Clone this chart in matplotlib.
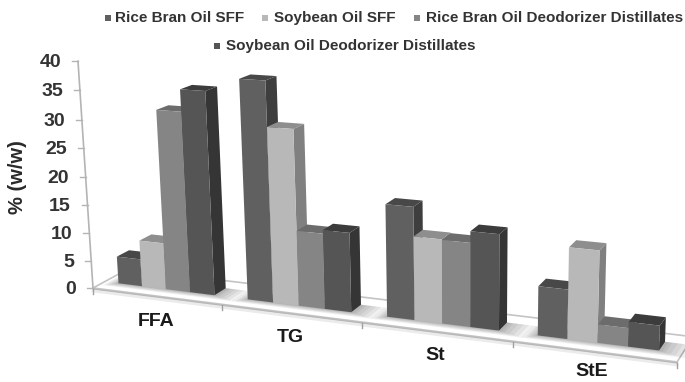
import numpy as np
import matplotlib
matplotlib.use('Agg')
import matplotlib.pyplot as plt

categories = ["FFA", "TG", "St", "StE"]
series_names = ["Rice Bran Oil SFF", "Soybean Oil SFF", "Rice Bran Oil Deodorizer Distillates", "Soybean Oil Deodorizer Distillates"]
rice_sff = [4.9, 37.9, 19.0, 8.1]
soy_sff = [8.3, 30.2, 14.1, 14.9]
rice_dd = [31.7, 13.0, 14.0, 3.0]
soy_dd = [35.5, 13.6, 15.9, 4.0]
y_ticks = [0, 5, 10, 15, 20, 25, 30, 35, 40]

front_cols = ["#606060", "#b8b8b8", "#858585", "#555555"]
side_cols = ["#3e3e3e", "#808080", "#666666", "#353535"]
top_cols = ["#484848", "#8e8e8e", "#6c6c6c", "#3c3c3c"]

plt.rcParams['font.family'] = ['Liberation Sans', 'DejaVu Sans']


def proj(u, v, d):
    # 遠近感つきの射影 (カテゴリ位置, 値, 奥行き) -> ピクセル
    w = 1 - 0.0365 * u - 0.000957 * v + 0.0375 * d
    x = (93 + 121.3 * u - 0.45 * v + 39.8 * d) / w
    y = (288 + 5.28 * u - 5.73 * v - 8.9 * d) / w
    return x, y


def face(ax, pts, color, z=3, **kw):
    xy = [proj(*p) for p in pts]
    ax.fill([p[0] for p in xy], [p[1] for p in xy], color=color, lw=0, zorder=z, **kw)


fig = plt.figure(figsize=(6.85, 3.82), dpi=100)
ax = fig.add_axes([0, 0, 1, 1])
ax.set_xlim(0, 685)
ax.set_ylim(382, 0)
ax.axis('off')

# 床
n_cat = len(categories)
fx, fy = zip(*[proj(0, 0, 0), proj(n_cat, 0, 0), proj(n_cat, 0, 1), proj(0, 0, 1), proj(0, 0, 0)])
ax.plot(fx, fy, color="#c4c4c4", lw=1.2, zorder=1)
x0, y0 = proj(0, 0, 0)
x1, y1 = proj(n_cat, 0, 0)
ax.plot([x0, x1], [y0 + 1.2, y1 + 1.2], color="#b8b8b8", lw=1.4, zorder=1)
ax.plot([x0, x1], [y0 + 3, y1 + 3], color="#ebebeb", lw=2, zorder=1)

# 軸と目盛り
ax_x = [proj(0, v, 0)[0] for v in (0, 40)]
ax_y = [proj(0, v, 0)[1] for v in (0, 40)]
ax.plot(ax_x, ax_y, color="#b4b4b4", lw=1.2, zorder=1)
for t in y_ticks:
    tx, ty = proj(0, t, 0)
    ax.plot([tx - 6, tx], [ty, ty], color="#b4b4b4", lw=1.0, zorder=1)
    ax.text(tx - 17, ty + 1.5, str(t), ha='right', va='center', fontsize=14, fontweight='bold', color="#333333")
for i in range(n_cat + 1):
    tx, ty = proj(i, 0, 0)
    ax.plot([tx, tx], [ty + 1, ty + 6], color="#a0a0a0", lw=1.0, zorder=1)

ax.text(18, 177, "% (w/w)", rotation=90, ha='center', va='center', fontsize=14.5, fontweight='bold', color="#2a2a2a")

label_pos = [(156, 322), (290, 337), (435, 356), (592, 372)]
for name, (lx, ly) in zip(categories, label_pos):
    ax.text(lx, ly, name, ha='center', va='center', fontsize=14, fontweight='bold', color="#1a1a1a")

# 棒
all_vals = [rice_sff, soy_sff, rice_dd, soy_dd]
u_start = 0.11
bw = 0.1875
d0, d1 = 0.33, 0.68
for c in range(n_cat):
    # 床の影
    for grow in (0.16, 0.13, 0.10, 0.07, 0.04, 0.02):
        a, b = c + u_start - grow * 0.5, c + u_start + 4 * bw + grow * 1.1
        face(ax, [(a, 0, d0 - grow), (b, 0, d0 - grow), (b, 0, d1), (a, 0, d1)], "#000000", z=2, alpha=0.055)
    for s in range(4):
        v = all_vals[s][c]
        a = c + u_start + s * bw
        b = a + bw
        face(ax, [(b, 0, d0), (b, 0, d1), (b, v, d1), (b, v, d0)], side_cols[s])
        face(ax, [(a, v, d0), (b, v, d0), (b, v, d1), (a, v, d1)], top_cols[s])
        face(ax, [(a, 0, d0), (b, 0, d0), (b, v, d0), (a, v, d0)], front_cols[s])

# 凡例
leg_pos = [(108, 115, 18), (265, 274, 18), (417, 426, 18), (217, 226, 46)]
for name, col, (mx, tx, ly) in zip(series_names, front_cols, leg_pos):
    ax.scatter([mx], [ly], marker='s', s=22, color=col, lw=0)
    ax.text(tx, ly, name, ha='left', va='center', fontsize=11, fontweight='bold', color="#333333")

plt.savefig("out.png", dpi=100)
